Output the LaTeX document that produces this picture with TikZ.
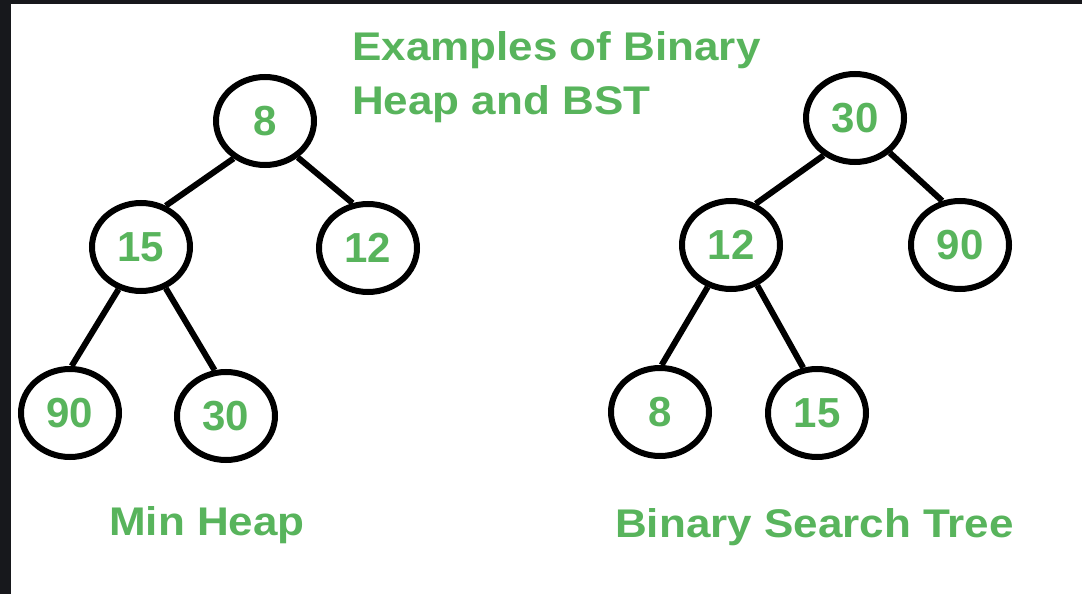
\documentclass[tikz,border=0pt]{standalone}
\usepackage{fontspec}
\setmainfont{Liberation Sans}
\newfontfamily\widesans[FakeStretch=1.1]{Liberation Sans}
\usepackage{tikz}
\usetikzlibrary{shapes.geometric}
\definecolor{gfggreen}{RGB}{88,180,92}
\definecolor{frame}{RGB}{23,24,28}
\tikzset{
    key/.style = {
        draw,
        shape=ellipse,
        minimum width=98pt,
        minimum height=88pt,
        inner sep=0pt,
        line width=6pt,
        text=gfggreen,
        font=\bfseries\fontsize{42}{42}\selectfont
    },
    caption/.style = {
        text=gfggreen,
        inner sep=0pt,
        font=\widesans\bfseries\fontsize{40}{54}\selectfont
    },
    link/.style = {
        draw,
        line width=6pt
    },
}

\begin{document}
\begin{tikzpicture}[x=1pt, y=-1pt]
                \fill[frame] (0,0) rectangle (1082,594);
                \fill[white] (11,4) rectangle (1082,594);
                \useasboundingbox (0,0) rectangle (1082,594);

                \node[caption, align=left, anchor=north west] (title) at (352,31) {Examples of Binary\\Heap and BST};

                \node[key] (heap8) at (265,121) {8};
                \node[key] (heap15) at (141,247) {15};
                \node[key] (heap12) at (368,248) {12};
                \node[key] (heap90) at (70,413) {90};
                \node[key] (heap30) at (226,416) {30};

                \node[key] (bst30) at (855,118) {30};
                \node[key] (bst12) at (731,245) {12};
                \node[key] (bst90) at (960,245) {90};
                \node[key] (bst8) at (660,412) {8};
                \node[key] (bst15) at (817,413) {15};

                \node[caption, anchor=base west] (heapname) at (109,535) {Min Heap};
                \node[caption, anchor=base west] (bstname) at (615,537) {Binary Search Tree};

                \path[link] (heap8.230) -- (heap15.59);
                \path[link] (heap8.312) -- (heap12.109);
                \path[link] (heap15.242) -- (heap90.88);
                \path[link] (heap15.301) -- (heap30.104);

                \path[link] (bst30.230) -- (bst12.59);
                \path[link] (bst30.315) -- (bst90.112);
                \path[link] (bst12.241) -- (bst8.88);
                \path[link] (bst12.303) -- (bst15.107);
\end{tikzpicture}
\end{document}
